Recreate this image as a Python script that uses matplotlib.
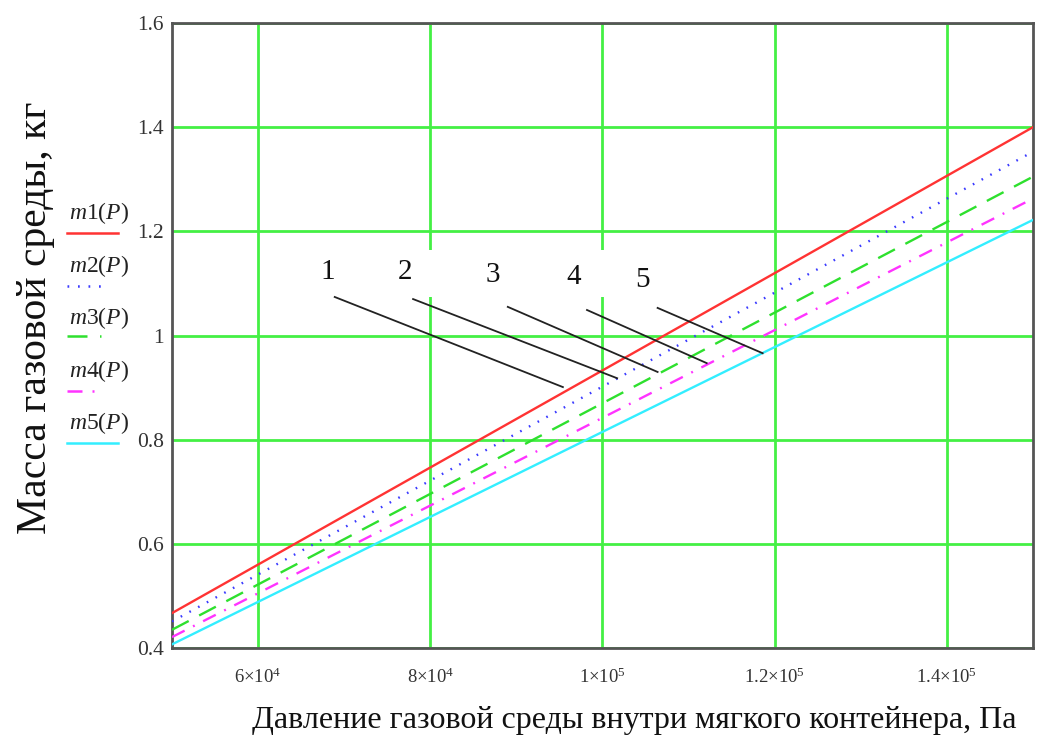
import matplotlib
matplotlib.use("Agg")
import matplotlib.pyplot as plt
from matplotlib.lines import Line2D
from matplotlib.patches import Rectangle

plt.rcParams['font.family'] = ['Liberation Serif', 'DejaVu Serif']
plt.rcParams['mathtext.fontset'] = 'custom'
plt.rcParams['mathtext.rm'] = 'Liberation Serif'
plt.rcParams['mathtext.it'] = 'Liberation Serif:italic'

# Pressure inside the soft container, Pa
pressure = [5.0e4, 1.0e5, 1.5e5]
# Gas mass for the five cases, kg
m1 = [0.467, 0.933, 1.400]
m2 = [0.451, 0.902, 1.353]
m3 = [0.435, 0.870, 1.305]
m4 = [0.421, 0.842, 1.263]
m5 = [0.407, 0.815, 1.222]

series_names = ['m1', 'm2', 'm3', 'm4', 'm5']
series_colors = ['#ff3333', '#3a3aff', '#2ee02e', '#ff33ff', '#33eeff']
series_styles = ['-', (0, (0.7, 3.5)), (0, (8, 5)), (0, (6, 4, 0.8, 4)), '-']

x_ticks = [6e4, 8e4, 1e5, 1.2e5, 1.4e5]
x_tick_labels = [r'$\mathregular{6{\times}10^{4}}$', r'$\mathregular{8{\times}10^{4}}$',
                 r'$\mathregular{1{\times}10^{5}}$', r'$\mathregular{1.2{\times}10^{5}}$',
                 r'$\mathregular{1.4{\times}10^{5}}$']
y_ticks = [0.4, 0.6, 0.8, 1.0, 1.2, 1.4, 1.6]
y_tick_labels = ['0.4', '0.6', '0.8', '1', '1.2', '1.4', '1.6']

# Curve numbers and their leader lines
callout_text = ['1', '2', '3', '4', '5']
callout_xy = [(6.81e4, 1.122), (7.71e4, 1.122), (8.73e4, 1.116), (9.66e4, 1.112), (10.46e4, 1.107)]
leader_start = [(6.89e4, 1.074), (7.80e4, 1.070), (8.90e4, 1.055), (9.82e4, 1.049), (10.64e4, 1.053)]
leader_end = [(9.54e4, 0.901), (10.17e4, 0.918), (10.64e4, 0.930), (11.21e4, 0.947), (11.86e4, 0.966)]

fig = plt.figure(figsize=(10.48, 7.47), dpi=100)
ax = fig.add_axes([0.1641, 0.1325, 0.8216, 0.8367])

grid_green = '#44f044'
ax.set_axisbelow(True)
ax.grid(True, color=grid_green, linewidth=2.0)

for vals, c, ls in zip([m1, m2, m3, m4, m5], series_colors, series_styles):
    ax.plot(pressure, vals, color=c, linestyle=ls, linewidth=1.7, zorder=3)

# white plate behind the curve numbers
ax.add_patch(Rectangle((6.45e4, 1.074), 4.6e4, 0.09, facecolor='white',
                       edgecolor='none', zorder=1))

for t, (tx, ty), (sx, sy), (ex, ey) in zip(callout_text, callout_xy, leader_start, leader_end):
    ax.text(tx, ty, t, fontsize=21, ha='center', va='center', color='#111111', zorder=4)
    ax.plot([sx, ex], [sy, ey], color='#222222', linewidth=1.3, zorder=4)

ax.set_xlim(5e4, 1.5e5)
ax.set_ylim(0.4, 1.6)
ax.set_xticks(x_ticks)
ax.set_xticklabels(x_tick_labels, fontsize=13.5, color='#333333')
ax.set_yticks(y_ticks)
ax.set_yticklabels(y_tick_labels, fontsize=15.5, color='#333333')
ax.tick_params(axis='both', length=0)
ax.tick_params(axis='x', pad=14)
ax.tick_params(axis='y', pad=6)
for sp in ax.spines.values():
    sp.set_color('#555555')
    sp.set_linewidth(2.0)

fig.text(0.605, 0.036, 'Давление газовой среды внутри мягкого контейнера, Па',
         fontsize=23, ha='center', va='center', color='#111111')
fig.text(0.034, 0.574, 'Масса газовой среды, кг', fontsize=30, rotation=90,
         ha='center', va='center', color='#111111')

# legend drawn in the left margin
W, H = 1048, 747
legend_text_y = [213, 266, 318, 371, 423]
legend_line_y = [233, 286, 336, 391, 443]
legend_line_x1 = [118, 108, 101, 101, 118]
for name, c, ls, ty, ly, x1 in zip(series_names, series_colors, series_styles,
                                   legend_text_y, legend_line_y, legend_line_x1):
    fig.text(69 / W, 1 - ty / H, '$\\mathit{' + name + '}$' + '(' + '$\\mathit{P}$' + ')',
             fontsize=17, ha='left', va='center', color='#222222')
    fig.add_artist(Line2D([67 / W, x1 / W], [1 - ly / H, 1 - ly / H],
                          color=c, linestyle=ls, linewidth=1.8))

fig.savefig('out.png', dpi=100)
